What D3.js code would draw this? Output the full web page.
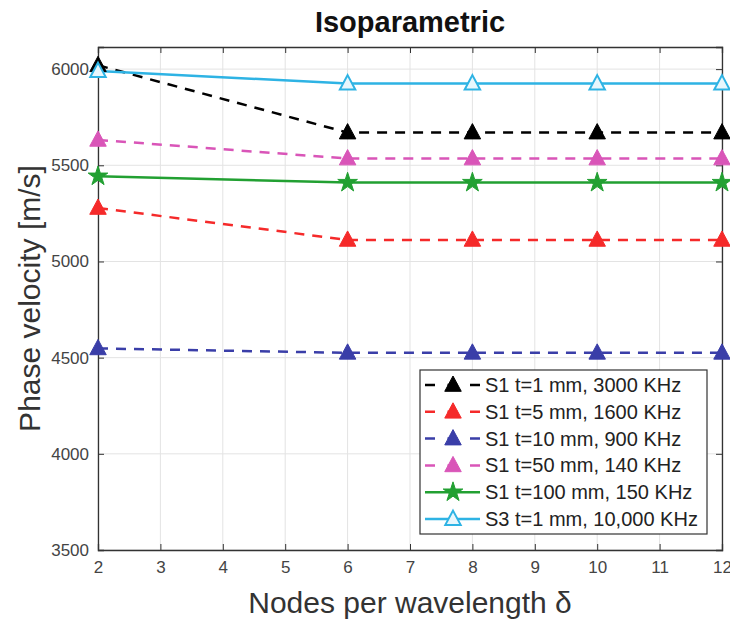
<!DOCTYPE html>
<html><head><meta charset="utf-8">
<script src="https://cdn.jsdelivr.net/npm/d3@7"></script>
<style>body{margin:0;background:#fff;} svg{display:block;font-family:"Liberation Sans",Arial,sans-serif;}</style>
</head><body>
<svg id="c" width="730" height="623"></svg>
<script>
const nodes = [2, 6, 8, 10, 12];
const seriesNames = ["S1 t=1 mm, 3000 KHz","S1 t=5 mm, 1600 KHz","S1 t=10 mm, 900 KHz","S1 t=50 mm, 140 KHz","S1 t=100 mm, 150 KHz","S3 t=1 mm, 10,000 KHz"];
const s1_1mm   = [6020, 5670, 5670, 5670, 5670];
const s1_5mm   = [5278, 5112, 5112, 5112, 5112];
const s1_10mm  = [4548, 4525, 4525, 4525, 4525];
const s1_50mm  = [5632, 5535, 5535, 5535, 5535];
const s1_100mm = [5443, 5410, 5410, 5410, 5410];
const s3_1mm   = [5990, 5925, 5925, 5925, 5925];
const xTicks = [2,3,4,5,6,7,8,9,10,11,12];
const yTicks = [3500,4000,4500,5000,5500,6000];
const colors = ["#000000","#f52a2a","#3a3ea8","#d955b8","#22a032","#2eb3e4"];
const dashed = [true,true,true,true,false,false];
const markers = ["tri","tri","tri","tri","star","opentri"];
const allSeries = [s1_1mm,s1_5mm,s1_10mm,s1_50mm,s1_100mm,s3_1mm];

const svg = d3.select("#c");
const L=98,R=722,T=47,B=550;
const x = d3.scaleLinear().domain([2,12]).range([L,R]);
const y = d3.scaleLinear().domain([3500,6115]).range([B,T]);

// grid
svg.append("g").selectAll("line").data(xTicks).join("line")
  .attr("x1",d=>x(d)).attr("x2",d=>x(d)).attr("y1",T).attr("y2",B)
  .attr("stroke","#e3e3e3").attr("stroke-width",1);
svg.append("g").selectAll("line").data(yTicks).join("line")
  .attr("y1",d=>y(d)).attr("y2",d=>y(d)).attr("x1",L).attr("x2",R)
  .attr("stroke","#e3e3e3").attr("stroke-width",1);

// axes
const axCol="#333";
const gx = svg.append("g").attr("transform",`translate(0,${B})`)
  .call(d3.axisBottom(x).tickValues(xTicks).tickSize(-6).tickPadding(11).tickFormat(d3.format("d")));
const gxT = svg.append("g").attr("transform",`translate(0,${T})`)
  .call(d3.axisTop(x).tickValues(xTicks).tickSize(-6).tickFormat(""));
const gy = svg.append("g").attr("transform",`translate(${L},0)`)
  .call(d3.axisLeft(y).tickValues(yTicks).tickSize(-6).tickPadding(9).tickFormat(d3.format("d")));
const gyR = svg.append("g").attr("transform",`translate(${R},0)`)
  .call(d3.axisRight(y).tickValues(yTicks).tickSize(-6).tickFormat(""));
[gx,gxT,gy,gyR].forEach(g=>{
  g.select(".domain").attr("stroke",axCol).attr("stroke-width",1.3);
  g.selectAll(".tick line").attr("stroke",axCol).attr("stroke-width",1);
  g.selectAll("text").attr("fill","#444").attr("font-size",17).attr("font-family","Liberation Sans,Arial,sans-serif");
});

const line = d3.line().x((d,i)=>x(nodes[i])).y(d=>y(d));
const triPath = s => `M0,${-s*0.6}L${s*0.55},${s*0.42}L${-s*0.55},${s*0.42}Z`;
const starPath = d3.symbol().type(d3.symbolStar).size(120)();

allSeries.forEach((vals,k)=>{
  svg.append("path").datum(vals).attr("d",line).attr("fill","none")
    .attr("stroke",colors[k]).attr("stroke-width",2.5)
    .attr("stroke-dasharray",dashed[k]?"10,8":null);
});
function drawMarker(g,k,cx,cy){
  const m=markers[k];
  if(m==="tri") g.append("path").attr("d",triPath(15)).attr("transform",`translate(${cx},${cy})`).attr("fill",colors[k]).attr("stroke",colors[k]).attr("stroke-width",1);
  else if(m==="opentri") g.append("path").attr("d",triPath(14)).attr("transform",`translate(${cx},${cy})`).attr("fill","#e8f7fd").attr("stroke",colors[k]).attr("stroke-width",2);
  else g.append("path").attr("d",starPath).attr("transform",`translate(${cx},${cy})`).attr("fill",colors[k]).attr("stroke",colors[k]).attr("stroke-width",1);
}
allSeries.forEach((vals,k)=>{
  const g=svg.append("g");
  vals.forEach((v,i)=>drawMarker(g,k,x(nodes[i]),y(v)));
});

// legend
const lg = svg.append("g");
const lx=420, ly=370, lw=287, lh=164;
lg.append("rect").attr("x",lx).attr("y",ly).attr("width",lw).attr("height",lh).attr("fill","#fff").attr("stroke","#333").attr("stroke-width",1.2);
seriesNames.forEach((name,k)=>{
  const yy = ly+15+k*26.8;
  lg.append("line").attr("x1",lx+5).attr("x2",lx+60).attr("y1",yy).attr("y2",yy)
    .attr("stroke",colors[k]).attr("stroke-width",2.5).attr("stroke-dasharray",dashed[k]?"10,12.5":null);
  drawMarker(lg,k,lx+33,yy);
  lg.append("text").attr("x",lx+65).attr("y",yy+7).attr("font-size",20).attr("fill","#222").text(name);
});

// title & labels
svg.append("text").attr("x",(L+R)/2).attr("y",32).attr("text-anchor","middle").attr("font-weight","bold").attr("font-size",29).attr("fill","#111").text("Isoparametric");
svg.append("text").attr("x",(L+R)/2).attr("y",613).attr("text-anchor","middle").attr("font-size",30).attr("fill","#333").text("Nodes per wavelength δ");
svg.append("text").attr("transform",`translate(40,${(T+B)/2}) rotate(-90)`).attr("text-anchor","middle").attr("font-size",30).attr("fill","#333").text("Phase velocity [m/s]");
</script>
</body></html>
